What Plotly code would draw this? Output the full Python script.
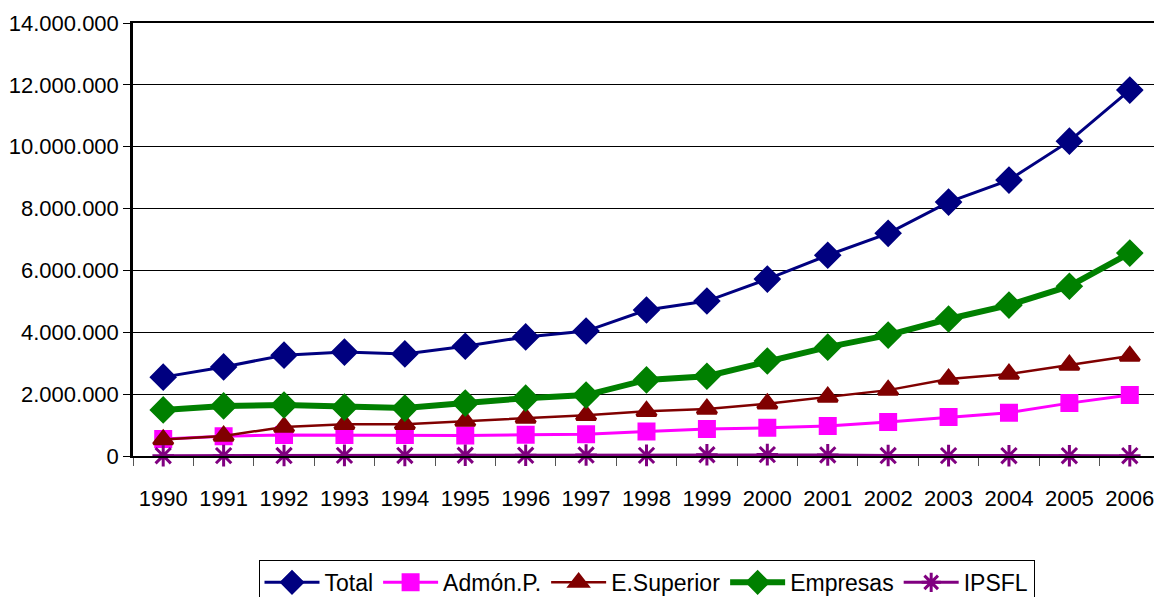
import plotly.graph_objects as go

years = [str(y) for y in range(1990, 2007)]
total = [2550000, 2880000, 3260000, 3360000, 3300000, 3550000, 3850000, 4040000, 4720000,
         5010000, 5720000, 6490000, 7200000, 8210000, 8920000, 10180000, 11830000]
admon = [550000, 640000, 680000, 680000, 680000, 660000, 690000, 700000, 790000,
         870000, 910000, 970000, 1100000, 1260000, 1400000, 1710000, 1970000]
esup = [530000, 650000, 940000, 1030000, 1030000, 1130000, 1230000, 1320000, 1450000,
        1520000, 1690000, 1910000, 2130000, 2490000, 2650000, 2940000, 3230000]
empresas = [1490000, 1620000, 1650000, 1580000, 1550000, 1710000, 1870000, 1970000, 2460000,
            2580000, 3070000, 3520000, 3910000, 4430000, 4880000, 5490000, 6560000]
ipsfl = [10000, 12000, 15000, 20000, 18000, 25000, 22000, 30000, 20000,
         40000, 45000, 35000, 15000, 12000, 10000, 10000, 10000]

series = [
    ("Total", total, "#000080", 3, "diamond", 18),
    ("Admón.P.", admon, "#FF00FF", 3, "square", 15),
    ("E.Superior", esup, "#800000", 2.5, "triangle-up", 17),
    ("Empresas", empresas, "#008000", 6, "diamond", 18),
    ("IPSFL", ipsfl, "#800080", 3, "asterisk-open", 18),
]

fig = go.Figure()
for name, vals, color, lw, sym, ms in series:
    fig.add_trace(go.Scatter(
        x=years, y=vals, name=name, mode="lines+markers",
        line=dict(color=color, width=lw),
        marker=dict(symbol=sym, size=ms, color=color, line=dict(color=color, width=3)),
        cliponaxis=False,
    ))

font_family = "Liberation Sans Narrow, Liberation Sans, Arial"
fig.update_layout(
    width=1154, height=589,
    margin=dict(l=125, r=2, t=15, b=141, autoexpand=False),
    paper_bgcolor="white", plot_bgcolor="white",
    separators=",.",
    font=dict(family=font_family, size=22, color="black"),
    showlegend=True,
    legend=dict(orientation="h", x=0.5, xanchor="center", y=-0.24, yanchor="top",
                bordercolor="black", borderwidth=1, font=dict(size=23),
                itemwidth=55, tracegroupgap=0),
)
fig.update_xaxes(
    type="category", range=[-0.5, len(years) - 0.5], autorange=False,
    automargin=False, showgrid=False, showline=True, linecolor="black",
    linewidth=2, mirror=True, ticks="outside", tickson="boundaries", ticklen=8,
    tickcolor="#555555", ticklabelstandoff=22, tickfont=dict(size=22), tickangle=0,
)
fig.update_yaxes(
    range=[0, 14000000], automargin=False,
    tickvals=[0, 2000000, 4000000, 6000000, 8000000, 10000000, 12000000, 14000000],
    tickformat=",d", showgrid=True, gridcolor="black", gridwidth=1,
    showline=True, linecolor="black", linewidth=2.5, mirror=True,
    ticks="outside", ticklen=7, tickcolor="black", zeroline=False, tickfont=dict(size=22),
)
fig.write_html("out.html")
